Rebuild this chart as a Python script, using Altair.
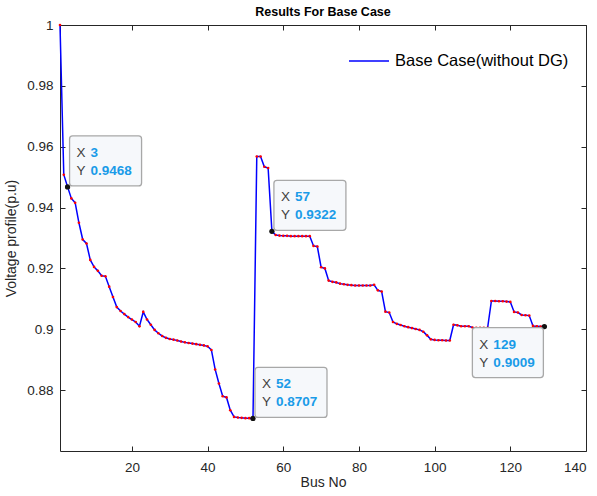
import altair as alt
import pandas as pd

# ---------------- data ----------------
bus = list(range(1, 130))
voltage = [
    1.0000, 0.9508, 0.9468, 0.9430, 0.9416, 0.9350, 0.9295, 0.9282, 0.9228, 0.9205,
    0.9192, 0.9176, 0.9174, 0.9140, 0.9106, 0.9073, 0.9060, 0.9050, 0.9040, 0.9032,
    0.9024, 0.9010, 0.9057, 0.9032, 0.9015, 0.8998, 0.8987, 0.8978, 0.8972, 0.8968,
    0.8966, 0.8963, 0.8960, 0.8957, 0.8955, 0.8953, 0.8951, 0.8949, 0.8947, 0.8944,
    0.8932, 0.8868, 0.8822, 0.8780, 0.8776, 0.8734, 0.8712, 0.8710, 0.8709, 0.8708,
    0.8708, 0.8707, 0.9568, 0.9568, 0.9534, 0.9530, 0.9322, 0.9310, 0.9308, 0.9307,
    0.9307, 0.9306, 0.9306, 0.9306, 0.9306, 0.9306, 0.9306, 0.9274, 0.9272, 0.9204,
    0.9200, 0.9160, 0.9156, 0.9154, 0.9150, 0.9148, 0.9146, 0.9145, 0.9144, 0.9144,
    0.9144, 0.9144, 0.9144, 0.9146, 0.9128, 0.9124, 0.9058, 0.9055, 0.9024, 0.9018,
    0.9014, 0.9010, 0.9007, 0.9004, 0.9001, 0.8998, 0.8992, 0.8980, 0.8967, 0.8965,
    0.8964, 0.8964, 0.8963, 0.8963, 0.9015, 0.9013, 0.9010, 0.9010, 0.9010, 0.9006,
    0.9005, 0.9005, 0.9005, 0.9005, 0.9093, 0.9093, 0.9092, 0.9092, 0.9091, 0.9090,
    0.9057, 0.9055, 0.9047, 0.9046, 0.9045, 0.9011, 0.9010, 0.9009, 0.9009,
]
series_name = "Base Case(without DG)"
x_ticks = [20, 40, 60, 80, 100, 120, 140]
y_ticks = [0.88, 0.90, 0.92, 0.94, 0.96, 0.98, 1.00]
x_domain = [1, 140]
y_domain = [0.86, 1.0]

tip_bus = [3, 52, 57, 129]
tip_v = [0.9468, 0.8707, 0.9322, 0.9009]
tip_xtext = ["3", "52", "57", "129"]
tip_ytext = ["0.9468", "0.8707", "0.9322", "0.9009"]
tip_side = ["ur", "ur", "ur", "dl"]

# ---------------- style ----------------
W, H = 526, 426
FONT = "Liberation Sans"
AX = "#262626"
BLUE = "#0000ff"
RED = "#ff0000"
TIPBLUE = "#1a9be8"
TIPGRAY = "#404040"

df = pd.DataFrame({"bus": bus, "v": voltage, "series": series_name})
tips = pd.DataFrame({"bus": tip_bus, "v": tip_v, "xt": tip_xtext,
                     "yt": tip_ytext, "side": tip_side})

xs = alt.Scale(domain=x_domain, nice=False, zero=False)
ys = alt.Scale(domain=y_domain, nice=False, zero=False)

tick_common = dict(labels=False, domain=False, grid=False, ticks=True,
                   tickSize=5, tickColor=AX, tickWidth=1, title=None)

# main axes (labels, no ticks)
x_main = alt.X("bus:Q", scale=xs, title="Bus No",
               axis=alt.Axis(values=x_ticks, format="d", ticks=False, tickSize=0,
                             domain=False, grid=False, labelFont=FONT,
                             labelFontSize=13.5, labelColor=AX, labelPadding=9,
                             titleFont=FONT, titleFontSize=14,
                             titleFontWeight="normal", titleColor=AX,
                             titlePadding=2))
y_main = alt.Y("v:Q", scale=ys, title="Voltage profile(p.u)",
               axis=alt.Axis(values=y_ticks, format=".2~f", ticks=False,
                             tickSize=0, domain=False, grid=False,
                             labelFont=FONT, labelFontSize=13.5, labelColor=AX,
                             labelPadding=7, titleFont=FONT, titleFontSize=14,
                             titleFontWeight="normal", titleColor=AX,
                             titlePadding=8))

line = alt.Chart(df).mark_line(strokeWidth=1.5).encode(
    x=x_main, y=y_main,
    color=alt.Color("series:N", scale=alt.Scale(range=[BLUE]),
                    legend=alt.Legend(orient="none", legendX=288, legendY=15,
                                      title=None, symbolType="stroke",
                                      symbolSize=1600, symbolStrokeWidth=1.5,
                                      labelFont=FONT, labelFontSize=16.5,
                                      labelColor="#000000", labelOffset=5,
                                      labelLimit=0, padding=0)),
)

# inward ticks on bottom / left edges
pts = alt.Chart(df).mark_circle(color=RED, size=7, opacity=1).encode(
    x=alt.X("bus:Q", scale=xs,
            axis=alt.Axis(orient="top", offset=-H, values=x_ticks, **tick_common)),
    y=alt.Y("v:Q", scale=ys,
            axis=alt.Axis(orient="right", offset=-W, values=y_ticks, **tick_common)),
)

# inward ticks on top / right edges + datatip markers
tip_pts = alt.Chart(tips).mark_circle(color="#111111", size=28, opacity=1).encode(
    x=alt.X("bus:Q", scale=xs,
            axis=alt.Axis(orient="bottom", offset=-H, values=x_ticks, **tick_common)),
    y=alt.Y("v:Q", scale=ys,
            axis=alt.Axis(orient="left", offset=-W, values=y_ticks, **tick_common)),
)

xn = alt.X("bus:Q", scale=xs, axis=None)
yn = alt.Y("v:Q", scale=ys, axis=None)

def tip_layers(side, bx0, bx1, by0, by1, tdx, vdx, row1, row2):
    base = alt.Chart(tips).transform_filter(alt.datum.side == side)
    box = base.mark_rect(fill="#f6f8fb", stroke="#a8a8a8", strokeWidth=1.3,
                         cornerRadius=3, xOffset=bx0, x2Offset=bx1,
                         yOffset=by0, y2Offset=by1).encode(
        x=xn, x2="bus:Q", y=yn, y2="v:Q")
    tx = dict(font=FONT, fontSize=13.5, align="left", baseline="middle")
    lx = base.mark_text(dx=tdx, dy=row1, color=TIPGRAY, **tx).encode(
        x=xn, y=yn, text=alt.value("X"))
    ly = base.mark_text(dx=tdx, dy=row2, color=TIPGRAY, **tx).encode(
        x=xn, y=yn, text=alt.value("Y"))
    vx = base.mark_text(dx=vdx, dy=row1, color=TIPBLUE, fontWeight="bold", **tx).encode(
        x=xn, y=yn, text="xt:N")
    vy = base.mark_text(dx=vdx, dy=row2, color=TIPBLUE, fontWeight="bold", **tx).encode(
        x=xn, y=yn, text="yt:N")
    return [box, lx, ly, vx, vy]

layers = [line, pts, tip_pts]
layers += tip_layers("ur", 2, 74, -51, -1, 9, 23, -34, -16)
layers += tip_layers("dl", -72, -1, 1, 51, -65, -51, 18, 36)

chart = alt.layer(*layers).resolve_scale(
    x="shared", y="shared", color="independent"
).resolve_axis(
    x="independent", y="independent"
).properties(
    width=W, height=H,
    title=alt.TitleParams("Results For Base Case", font=FONT, fontSize=12.5,
                          fontWeight="bold", color="#000000", offset=0,
                          anchor="middle"),
    autosize=alt.AutoSizeParams(type="none"),
    padding={"left": 60, "top": 25, "right": 11, "bottom": 45},
    background="white",
).configure_view(stroke=AX, strokeWidth=1)

chart.save("out.html", embed_options={"renderer": "svg", "actions": False})
